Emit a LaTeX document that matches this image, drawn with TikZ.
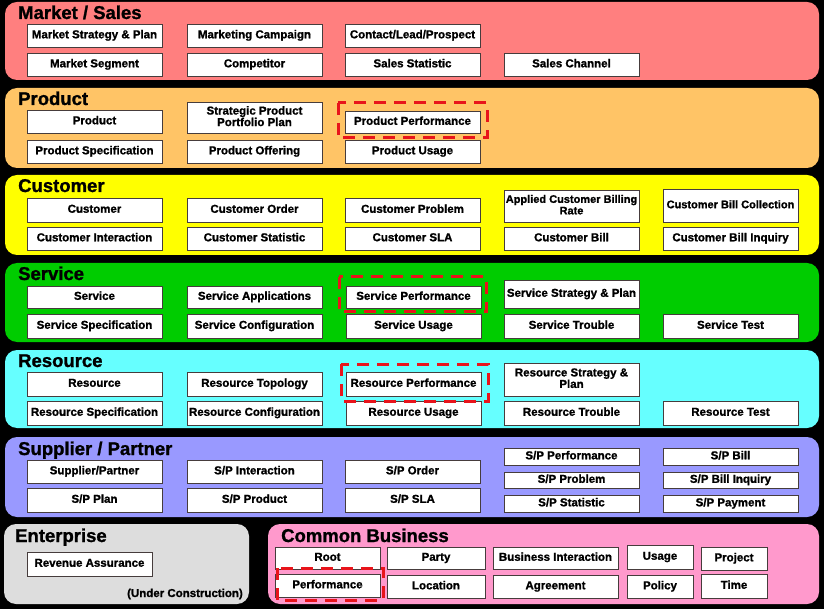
\documentclass[tikz,border=0pt]{standalone}
\usepackage{fontspec}
\setmainfont{Liberation Sans}[BoldFeatures={FakeBold=1.2}]
\definecolor{bgblack}{RGB}{0,0,0}
\definecolor{cmarket}{RGB}{255,127,127}
\definecolor{cproduct}{RGB}{255,196,102}
\definecolor{ccustomer}{RGB}{255,255,0}
\definecolor{cservice}{RGB}{0,204,0}
\definecolor{cresource}{RGB}{102,255,255}
\definecolor{csupplier}{RGB}{153,153,255}
\definecolor{centerprise}{RGB}{221,221,221}
\definecolor{ccommon}{RGB}{255,153,204}
\definecolor{boxline}{RGB}{70,60,60}
\definecolor{perfred}{RGB}{232,20,27}
\newcommand{\capstrut}{\rule[-2.7pt]{0pt}{10.9pt}}
\tikzset{
  bx/.style={draw=boxline, fill=white, line width=0.9pt, inner xsep=0pt, inner ysep=0pt, outer sep=0pt,
    align=center, font=\fontsize{11.5}{11.5}\selectfont\bfseries,
    execute at begin node=\capstrut, execute at end node=\capstrut},
  narrow/.style={font=\fontsize{11}{11.5}\selectfont\bfseries},
  ttl/.style={anchor=base west, inner sep=0pt, font=\fontsize{18.5}{19}\selectfont\bfseries},
  band/.style={rounded corners=12pt},
  perf/.style={draw=perfred, line width=3pt, dash pattern=on 12pt off 8pt},
}
\newcommand{\bx}[7][]{\node[bx, #1, minimum width={#5pt-#3pt}, minimum height={#6pt-#4pt}] (#2) at ({(#3+#5)/2},{(#4+#6)/2}) {#7};}
\begin{document}
\begin{tikzpicture}[x=1pt,y=-1pt]
\fill[bgblack] (0,0) rectangle (824,609);
\useasboundingbox (0,0) rectangle (824,609);
% bands
\fill[band, cmarket] (5,2) rectangle (819,80);
\fill[band, cproduct] (5,88) rectangle (819,168);
\fill[band, ccustomer] (5,175) rectangle (819,255);
\fill[band, cservice] (5,263) rectangle (819,342);
\fill[band, cresource] (5,350) rectangle (819,428);
\fill[band, csupplier] (5,437) rectangle (819,517);
\fill[band, centerprise] (4,524) rectangle (249,604);
\fill[band, ccommon] (268,524) rectangle (819,604);
% titles
\node[ttl] (tmarket) at (18,19) {Market / Sales};
\node[ttl] (tproduct) at (18,105) {Product};
\node[ttl] (tcustomer) at (18,192) {Customer};
\node[ttl] (tservice) at (18,280) {Service};
\node[ttl] (tresource) at (18,367) {Resource};
\node[ttl] (tsupplier) at (18,455) {Supplier / Partner};
\node[ttl] (tenterprise) at (15,542) {Enterprise};
\node[ttl] (tcommon) at (281,542) {Common Business};
% market
\bx{m1}{27}{24}{162}{47}{Market Strategy \& Plan}
\bx{m2}{187}{24}{322}{47}{Marketing Campaign}
\bx{m3}{345}{24}{480}{47}{Contact/Lead/Prospect}
\bx{m4}{27}{53}{162}{76}{Market Segment}
\bx{m5}{187}{53}{322}{76}{Competitor}
\bx{m6}{345}{53}{480}{76}{Sales Statistic}
\bx{m7}{504}{53}{639}{76}{Sales Channel}
% product
\bx{p1}{27}{110}{162}{133}{Product}
\bx{p2}{187}{102}{322}{133}{Strategic Product\\Portfolio Plan}
\bx{p3}{345}{111}{480}{133}{Product Performance}
\bx{p4}{27}{140}{162}{163}{Product Specification}
\bx{p5}{187}{140}{322}{163}{Product Offering}
\bx{p6}{345}{140}{480}{163}{Product Usage}
\draw[perf] (338,103) rectangle (487,138);
% customer
\bx{c1}{27}{198}{162}{222}{Customer}
\bx{c2}{187}{198}{322}{222}{Customer Order}
\bx{c3}{345}{198}{480}{222}{Customer Problem}
\bx[narrow]{c4}{504}{190}{639}{222}{Applied Customer Billing\\Rate}
\bx[narrow]{c5}{663}{189}{798}{222}{Customer Bill Collection}
\bx{c6}{27}{227}{162}{250}{Customer Interaction}
\bx{c7}{187}{227}{322}{250}{Customer Statistic}
\bx{c8}{345}{227}{480}{250}{Customer SLA}
\bx{c9}{504}{227}{639}{250}{Customer Bill}
\bx{c10}{663}{227}{798}{250}{Customer Bill Inquiry}
% service
\bx{s1}{27}{286}{162}{308}{Service}
\bx{s2}{187}{286}{322}{308}{Service Applications}
\bx{s3}{346}{286}{481}{308}{Service Performance}
\bx{s4}{504}{280}{639}{308}{Service Strategy \& Plan}
\bx{s5}{27}{314}{162}{338}{Service Specification}
\bx{s6}{187}{314}{322}{338}{Service Configuration}
\bx{s7}{346}{314}{481}{338}{Service Usage}
\bx{s8}{504}{314}{639}{338}{Service Trouble}
\bx{s9}{663}{314}{798}{338}{Service Test}
\draw[perf] (339,277) rectangle (486,312);
% resource
\bx{r1}{27}{372}{162}{396}{Resource}
\bx{r2}{187}{372}{322}{396}{Resource Topology}
\bx{r3}{346}{372}{481}{396}{Resource Performance}
\bx{r4}{504}{363}{639}{396}{Resource Strategy \&\\Plan}
\bx{r5}{27}{401}{162}{425}{Resource Specification}
\bx{r6}{187}{401}{322}{425}{Resource Configuration}
\bx{r7}{346}{401}{481}{425}{Resource Usage}
\bx{r8}{504}{401}{639}{425}{Resource Trouble}
\bx{r9}{663}{401}{798}{425}{Resource Test}
\draw[perf] (341,364) rectangle (488,401);
% supplier / partner
\bx{sp1}{27}{460}{162}{483}{Supplier/Partner}
\bx{sp2}{187}{460}{322}{483}{S/P Interaction}
\bx{sp3}{345}{460}{480}{483}{S/P Order}
\bx{sp4}{27}{488}{162}{512}{S/P Plan}
\bx{sp5}{187}{488}{322}{512}{S/P Product}
\bx{sp6}{345}{488}{480}{512}{S/P SLA}
\bx{sp7}{504}{448}{639}{465}{S/P Performance}
\bx{sp8}{504}{472}{639}{488}{S/P Problem}
\bx{sp9}{504}{495}{639}{512}{S/P Statistic}
\bx{sp10}{663}{448}{798}{465}{S/P Bill}
\bx{sp11}{663}{472}{798}{488}{S/P Bill Inquiry}
\bx{sp12}{663}{495}{798}{512}{S/P Payment}
% enterprise
\bx{e1}{27}{552}{152}{576}{Revenue Assurance}
\node[anchor=base east, inner sep=0pt, font=\fontsize{11.5}{12}\selectfont\bfseries] (uc) at (243,597) {(Under Construction)};
% common business
\bx{cb1}{275}{547}{380}{569}{Root}
\bx{cb2}{275}{574}{380}{597}{Performance}
\bx{cb3}{387}{547}{485}{569}{Party}
\bx{cb4}{387}{575}{485}{598}{Location}
\bx{cb5}{493}{547}{618}{569}{Business Interaction}
\bx{cb6}{493}{575}{618}{598}{Agreement}
\bx{cb7}{627}{545}{693}{569}{Usage}
\bx{cb8}{627}{575}{693}{598}{Policy}
\bx{cb9}{701}{547}{767}{570}{Project}
\bx{cb10}{701}{574}{767}{598}{Time}
\draw[perf] (277,568) rectangle (383,600);
\end{tikzpicture}
\end{document}
